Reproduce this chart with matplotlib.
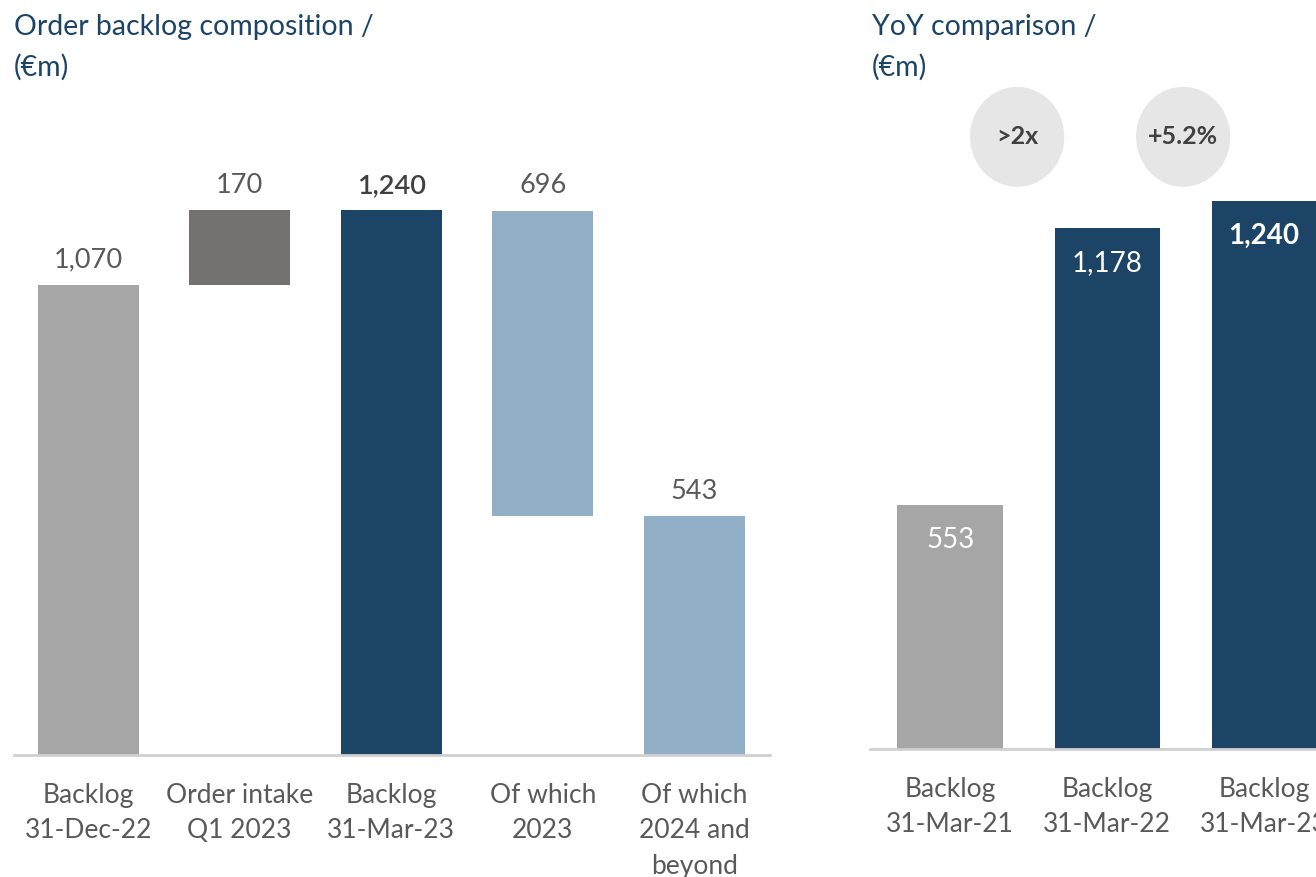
import numpy as np
import matplotlib
matplotlib.use("Agg")
import matplotlib.pyplot as plt
from matplotlib.patches import Ellipse

plt.rcParams['font.family'] = ['Lato', 'DejaVu Sans']

# Waterfall data (left panel)
wf_labels = ["Backlog\n31-Dec-22", "Order intake\nQ1 2023", "Backlog\n31-Mar-23",
             "Of which\n2023", "Of which\n2024 and\nbeyond"]
wf_values = [1070, 170, 1240, 696, 543]
wf_bottoms = [0, 1070, 0, 543, 0]
wf_text = ["1,070", "170", "1,240", "696", "543"]

# YoY data (right panel)
yoy_labels = ["Backlog\n31-Mar-21", "Backlog\n31-Mar-22", "Backlog\n31-Mar-23"]
yoy_values = [553, 1178, 1240]
yoy_text = ["553", "1,178", "1,240"]
growth_text = [">2x", "+5.2%"]

NAVY = "#1c4466"
GREY = "#a6a6a6"
DGREY = "#767171"
LBLUE = "#91afc6"
TXT = "#595959"
TITLE = "#1c4466"

W, H = 1316, 877
fig = plt.figure(figsize=(W / 100, H / 100), dpi=100)

# left axes: baseline at y=755px, x 14..770
ax1_h = 755 - 100
ax1 = fig.add_axes([14 / W, (H - 755) / H, 756 / W, ax1_h / H])
ax1.set_xlim(-0.49, 4.5)
ax1.set_ylim(0, ax1_h / 0.4393)
colors = [GREY, DGREY, NAVY, LBLUE, LBLUE]
x1 = np.arange(len(wf_values))
ax1.bar(x1, wf_values, bottom=wf_bottoms, width=0.667, color=colors)
for i, (v, b, t) in enumerate(zip(wf_values, wf_bottoms, wf_text)):
    bold = (i == 2)
    ax1.annotate(t, (i, v + b), xytext=(0, 9), textcoords="offset points",
                 ha="center", va="bottom", fontsize=19.5,
                 color="#404040" if bold else TXT,
                 fontweight="semibold" if bold else "normal")

# right axes: baseline at y=749px, x 870..1316
ax2_h = 749 - 100
ax2 = fig.add_axes([870 / W, (H - 749) / H, 446 / W, ax2_h / H])
ax2.set_xlim(-0.51, 2.33)
ax2.set_ylim(0, ax2_h / 0.442)
x2 = np.arange(len(yoy_values))
ax2.bar(x2, yoy_values, width=0.67, color=[GREY, NAVY, NAVY], clip_on=False)
for i, (v, t) in enumerate(zip(yoy_values, yoy_text)):
    ax2.annotate(t, (i, v), xytext=(0, -16), textcoords="offset points",
                 ha="center", va="top", fontsize=20, color="white",
                 fontweight="bold" if i == 2 else "normal")

# growth bubbles
for cx, t in zip([0.427, 1.484], growth_text):
    e = Ellipse((cx, 1385), 0.6, 226, facecolor="#e6e6e6", edgecolor="none",
                clip_on=False)
    ax2.add_patch(e)
    ax2.text(cx, 1385, t, ha="center", va="center", fontsize=18,
             fontweight="bold", color="#404040")

for ax, labels, n in [(ax1, wf_labels, 5), (ax2, yoy_labels, 3)]:
    for s in ["top", "left", "right"]:
        ax.spines[s].set_visible(False)
    ax.spines["bottom"].set_color("#d0d0d0")
    ax.spines["bottom"].set_linewidth(2)
    ax.set_yticks([])
    ax.set_xticks(np.arange(n))
    ax.set_xticklabels(labels, fontsize=19, color=TXT, linespacing=1.52)
    ax.tick_params(axis="x", length=0, pad=20)

fig.text(14 / W, 1 - 27 / H, "Order backlog composition /", fontsize=20.5,
         color=TITLE, va="center", ha="left")
fig.text(14 / W, 1 - 67 / H, "(€m)", fontsize=20.5, color=TITLE,
         va="center", ha="left")
fig.text(872 / W, 1 - 27 / H, "YoY comparison /", fontsize=20.5,
         color=TITLE, va="center", ha="left")
fig.text(872 / W, 1 - 67 / H, "(€m)", fontsize=20.5, color=TITLE,
         va="center", ha="left")

fig.savefig("out.png", dpi=100)
